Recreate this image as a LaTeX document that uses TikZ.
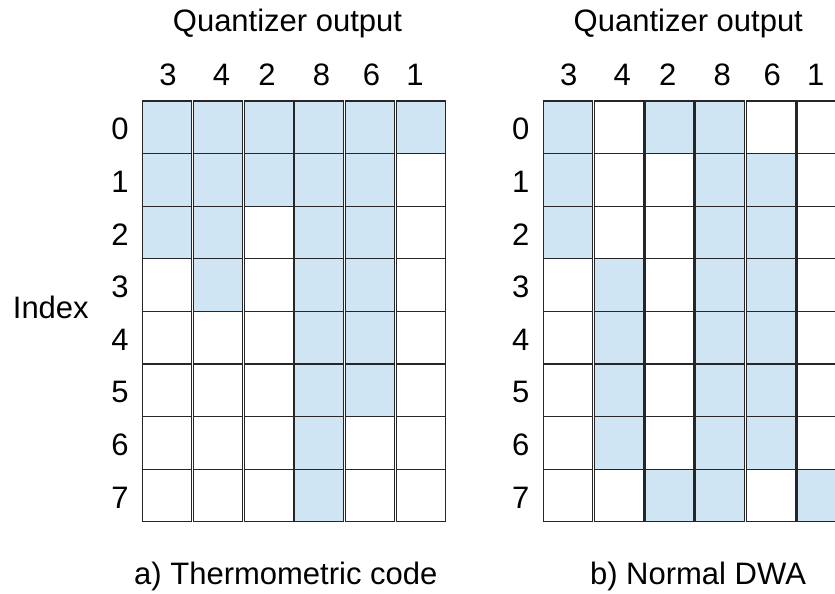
\documentclass[tikz,border=0pt]{standalone}
\usepackage{fontspec}
\setmainfont{Liberation Sans}
\definecolor{cellblue}{RGB}{207,229,243}
\tikzset{
  cell/.style={draw=black!85, line width=1.2pt, minimum width=49pt, minimum height=52.6pt, inner sep=0pt, outer sep=0pt},
  s1/.style={cell, fill=cellblue},
  s0/.style={cell, fill=white},
  lbl/.style={font=\fontsize{31}{37}\selectfont, inner sep=0pt, anchor=base},
}
\begin{document}
\begin{tikzpicture}[x=1pt,y=-1pt]
\useasboundingbox (0,0) rectangle (835,594);
\clip (0,0) rectangle (835,594);
% grid a: thermometric code
\foreach \r/\bits in {0/{1,1,1,1,1,1},1/{1,1,1,1,1,0},2/{1,1,0,1,1,0},3/{0,1,0,1,1,0},4/{0,0,0,1,1,0},5/{0,0,0,1,1,0},6/{0,0,0,1,0,0},7/{0,0,0,1,0,0}}{
  \foreach \b [count=\c from 0] in \bits {
    \node[s\b] (a-\r-\c) at ({167.2+50.7*\c},{127.3+52.6*\r}) {};
  }
}
% grid b: normal DWA
\foreach \r/\bits in {0/{1,0,1,1,0,0},1/{1,0,0,1,1,0},2/{1,0,0,1,1,0},3/{0,1,0,1,1,0},4/{0,1,0,1,1,0},5/{0,1,0,1,1,0},6/{0,1,0,1,1,0},7/{0,0,1,1,0,1}}{
  \foreach \b [count=\c from 0] in \bits {
    \node[s\b] (b-\r-\c) at ({568.0+50.7*\c},{127.3+52.6*\r}) {};
  }
}
% headers
\node[lbl] (qa) at (287.5,32) {Quantizer output};
\node[lbl] (qb) at (688.3,32) {Quantizer output};
\foreach \d/\x [count=\i] in {3/168,4/221.5,2/267,8/321.5,6/371.5,1/415}{
  \node[lbl] (da\i) at (\x,85) {\d};
  \node[lbl] (db\i) at ({\x+400.8},85) {\d};
}
% row labels
\foreach \r in {0,...,7}{
  \node[lbl] (ra\r) at (120,{139.8+52.6*\r}) {\r};
  \node[lbl] (rb\r) at (520.8,{139.8+52.6*\r}) {\r};
}
\node[lbl] (idx) at (50.8,318) {Index};
% captions
\node[lbl] (capa) at (285.8,584) {a) Thermometric code};
\node[lbl] (capb) at (698,584) {b) Normal DWA};
\end{tikzpicture}
\end{document}
